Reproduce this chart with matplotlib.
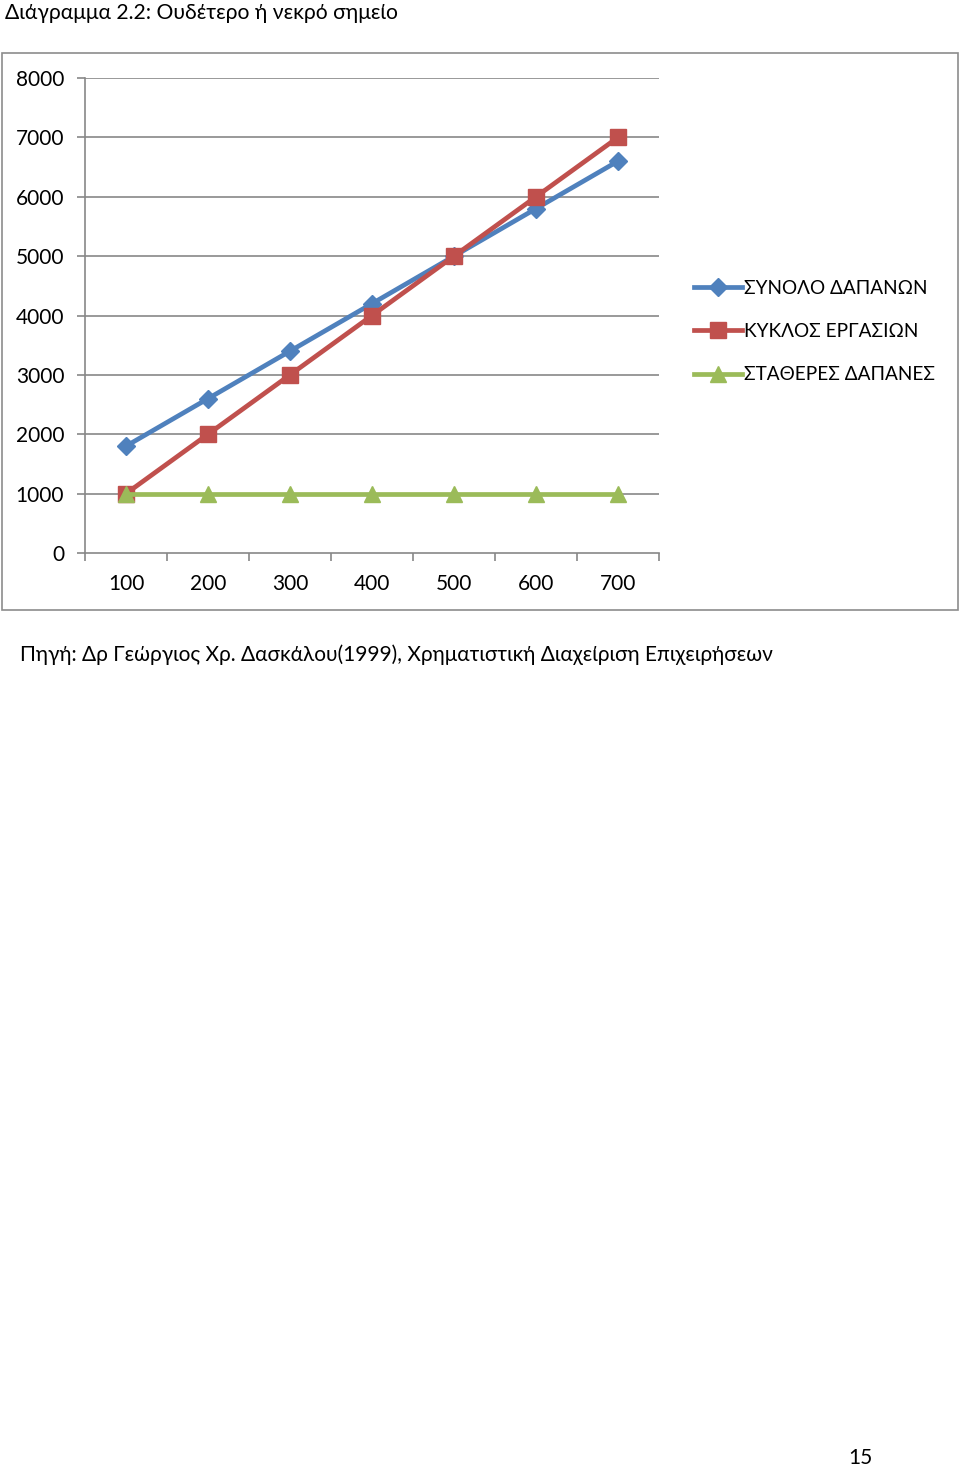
import matplotlib
matplotlib.use('Agg')
import matplotlib.pyplot as plt
from matplotlib.patches import Rectangle

plt.rcParams['font.family'] = ['Lato', 'DejaVu Sans']

# data
categories = ['100', '200', '300', '400', '500', '600', '700']
total_costs = [1800, 2600, 3400, 4200, 5000, 5800, 6600]
turnover = [1000, 2000, 3000, 4000, 5000, 6000, 7000]
fixed_costs = [1000, 1000, 1000, 1000, 1000, 1000, 1000]
series_names = ['ΣΥΝΟΛΟ ΔΑΠΑΝΩΝ', 'ΚΥΚΛΟΣ ΕΡΓΑΣΙΩΝ', 'ΣΤΑΘΕΡΕΣ ΔΑΠΑΝΕΣ']
y_ticks = [0, 1000, 2000, 3000, 4000, 5000, 6000, 7000, 8000]

W, H = 960, 1469
fig = plt.figure(figsize=(W / 100, H / 100), dpi=100)

# outer chart frame
fig.patches.append(Rectangle((2 / W, 1 - 610 / H), 956 / W, 557 / H,
                             transform=fig.transFigure, fill=False,
                             edgecolor='#8c8c8c', linewidth=1.2))

ax = fig.add_axes([85 / W, 1 - 553 / H, 574 / W, 475 / H])
x = list(range(len(categories)))

grid_c = '#878787'
for v in y_ticks[1:]:
    ax.axhline(v, color=grid_c, linewidth=1.2, zorder=1)

ax.plot(x, total_costs, color='#4F81BD', lw=3.4, marker='D', ms=9,
        label=series_names[0], zorder=3)
ax.plot(x, turnover, color='#C0504D', lw=3.4, marker='s', ms=11,
        label=series_names[1], zorder=4)
ax.plot(x, fixed_costs, color='#9BBB59', lw=3.4, marker='^', ms=11,
        label=series_names[2], zorder=5)

ax.set_xlim(-0.5, len(categories) - 0.5)
ax.set_ylim(0, 8000)
ax.set_yticks(y_ticks)
ax.set_yticklabels([str(v) for v in y_ticks])
ax.set_xticks(x)
ax.set_xticklabels(categories)
ax.set_xticks([i - 0.5 for i in range(len(categories) + 1)], minor=True)
ax.tick_params(axis='x', which='major', length=0, pad=15, labelsize=15)
ax.tick_params(axis='x', which='minor', length=6, color=grid_c, width=1.2)
ax.tick_params(axis='y', length=6, color=grid_c, width=1.2, pad=9, labelsize=15)
for s in ['top', 'right']:
    ax.spines[s].set_visible(False)
ax.spines['left'].set_color(grid_c)
ax.spines['bottom'].set_color(grid_c)
ax.spines['left'].set_linewidth(1.2)
ax.spines['bottom'].set_linewidth(1.2)

ax.legend(loc='center left', bbox_to_anchor=(694 / W, 1 - 331.5 / H),
          bbox_transform=fig.transFigure, frameon=False, fontsize=13.7,
          handlelength=2.5, handletextpad=0.15, labelspacing=1.38,
          borderpad=0, borderaxespad=0)

fig.text(5 / W, 1 - 13 / H, 'Διάγραμμα 2.2: Ουδέτερο ή νεκρό σημείο',
         fontsize=15.2, va='center', ha='left')
fig.text(20 / W, 1 - 655 / H,
         'Πηγή: Δρ Γεώργιος Χρ. Δασκάλου(1999), Χρηματιστική Διαχείριση Επιχειρήσεων',
         fontsize=15, va='center', ha='left')
fig.text(860 / W, 1 - 1458 / H, '15', fontsize=15, va='center', ha='center')

fig.savefig('out.png', dpi=100)
